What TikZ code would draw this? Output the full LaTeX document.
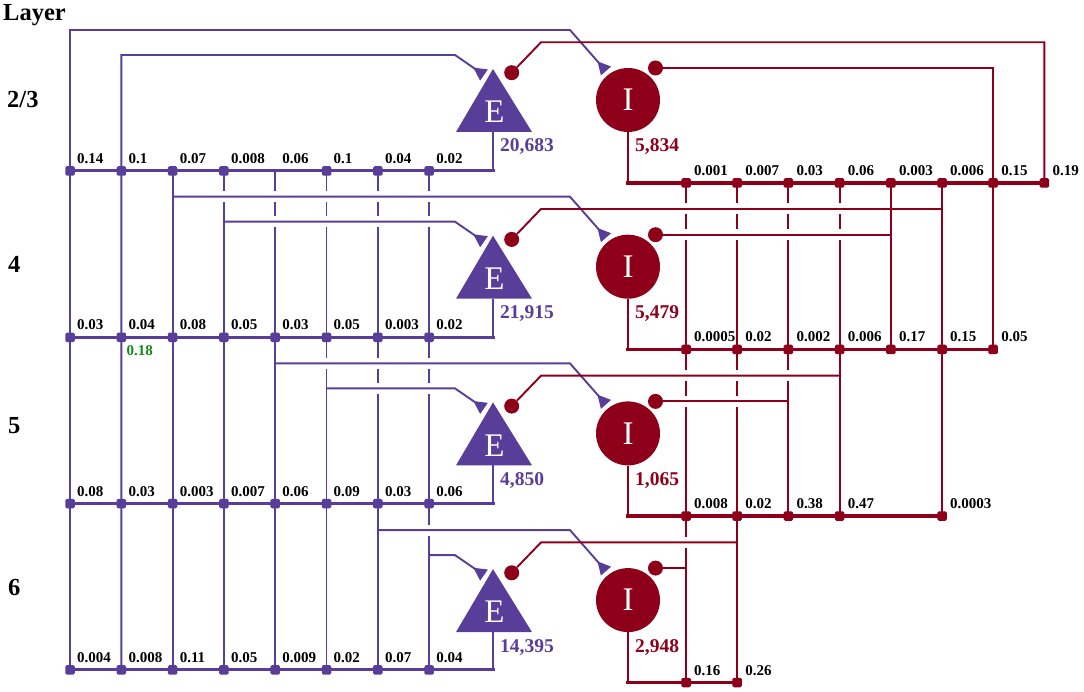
\documentclass[tikz,border=0pt]{standalone}
\usepackage{fontspec}
\setmainfont{Liberation Serif}
\usetikzlibrary{arrows.meta,calc}
\definecolor{pur}{RGB}{88,62,152}
\definecolor{inh}{RGB}{142,0,26}
\definecolor{grn}{RGB}{22,136,22}
\begin{document}
\begin{tikzpicture}[x=1pt,y=-1pt,
  ew/.style={draw=pur,line width=1.9pt,line join=miter},
  iw/.style={draw=inh,line width=1.9pt,line join=miter},
  pbus/.style={draw=pur,line width=3pt,line cap=rect},
  rbus/.style={draw=inh,line width=3.4pt,line cap=rect},
  psq/.style={fill=pur,minimum size=9.5pt,inner sep=0pt,rounded corners=1.5pt},
  rsq/.style={fill=inh,minimum size=9.5pt,inner sep=0pt,rounded corners=1.5pt},
  lab/.style={font=\bfseries\fontsize{15}{15}\selectfont,anchor=base west,inner sep=0pt},
  cnt/.style={font=\bfseries\fontsize{19.5}{19.5}\selectfont,anchor=base west,inner sep=0pt},
  lay/.style={font=\bfseries\fontsize{24.5}{24.5}\selectfont,anchor=base west,inner sep=0pt},
  neu/.style={text=white,font=\fontsize{33}{33}\selectfont,inner sep=0pt},
  syn/.style={circle,fill=inh,minimum size=15pt,inner sep=0pt},
  exa/.style={-{Triangle[reversed,length=13pt,width=13pt]}}
]
\useasboundingbox (0,0) rectangle (1084,692);

% bus coordinates
\foreach \k/\yy in {1/171,2/337.3,3/503.6,4/669.9}{
  \foreach \c/\xx in {1/70,2/121.3,3/172.6,4/223.9,5/275.2,6/326.5,7/377.8,8/429.1}{
    \coordinate (p\k-\c) at (\xx,\yy);}}
\foreach \k/\yy in {1/183,2/349.5,3/516,4/682.5}{
  \foreach \c/\xx in {1/686,2/737.2,3/788.4,4/839.6,5/890.8,6/942,7/993.2,8/1044.4}{
    \coordinate (r\k-\c) at (\xx,\yy);}}

% neuron-level coordinates
\foreach \k/\pc/\qc/\rc/\sc in {1/1/2/8/7,2/3/4/6/5,3/5/6/4/3,4/7/8/2/1}{
  \pgfmathsetmacro\dy{166.7*(\k-1)}
  \pgfmathsetmacro\yI{30+\dy}
  \pgfmathsetmacro\yE{55+\dy}
  \pgfmathsetmacro\yhE{42.3+\dy}
  \pgfmathsetmacro\yhI{68+\dy}
  \pgfmathsetmacro\ytI{71+\dy}
  \pgfmathsetmacro\ytE{75+\dy}
  \pgfmathsetmacro\yb{132+\dy}
  \coordinate (inI\k) at (p1-\pc |- 0,\yI);
  \coordinate (inE\k) at (p1-\qc |- 0,\yE);
  \coordinate (hE\k) at (r1-\rc |- 0,\yhE);
  \coordinate (hI\k) at (r1-\sc |- 0,\yhI);
  \coordinate (bI\k) at (570,\yI);
  \coordinate (tI\k) at (606,\ytI);
  \coordinate (bE\k) at (455,\yE);
  \coordinate (tE\k) at (484,\ytE);
  \coordinate (bh\k) at (541,\yhE);
  \coordinate (Eb\k) at (493,\yb);
}

% long verticals
\foreach \c in {3,...,8}{\draw[ew] (p1-\c) -- (p4-\c);}
\draw[iw] (r1-6) -- (r3-6);
\draw[iw] (r1-5) -- (r2-5);
\draw[iw] (r1-4) -- (r3-4);
\draw[iw] (r1-3) -- (r3-3);
\draw[iw] (r1-2) -- (r4-2);
\draw[iw] (r1-1) -- (r4-1);

% gaps where verticals pass under horizontals
\foreach \c/\h in {p1-4/inI2,p1-5/inI2,p1-5/inE2,p1-6/inI2,p1-6/inE2,p1-6/inI3,
  p1-7/inI2,p1-7/inE2,p1-7/inI3,p1-7/inE3,
  p1-8/inI2,p1-8/inE2,p1-8/inI3,p1-8/inE3,p1-8/inI4,
  r1-4/hE2,r1-4/hI2,r1-3/hE2,r1-3/hI2,r1-3/hE3,
  r1-2/hE2,r1-2/hI2,r1-2/hE3,r1-2/hI3,
  r1-1/hE2,r1-1/hI2,r1-1/hE3,r1-1/hI3,r1-1/hE4}{
  \fill[white] ($(\c |- \h)+(-2.6,-5.5)$) rectangle ($(\c |- \h)+(2.6,5.5)$);}

% neurons
\foreach \k/\last in {1/8,2/7,3/6,4/2}{
  \pgfmathsetmacro\dy{166.7*(\k-1)}
  \pgfmathsetmacro\ya{69+\dy}
  \pgfmathsetmacro\yb{132+\dy}
  \pgfmathsetmacro\ye{112+\dy}
  \pgfmathsetmacro\yc{100+\dy}
  \pgfmathsetmacro\ys{72.7+\dy}
  \pgfmathsetmacro\yt{68+\dy}
  \fill[pur] (456,\yb) -- (493,\ya) -- (532,\yb) -- cycle;
  \node[neu] (E\k) at (494.5,\ye) {E};
  \node[circle,fill=inh,minimum size=64pt,inner sep=0pt,text=white,
        font=\fontsize{33}{33}\selectfont] (I\k) at (628,\yc) {I};
  \node[syn] (sE\k) at (511.7,\ys) {};
  \node[syn] (sI\k) at (655.5,\yt) {};
  \coordinate (Eo\k) at (Eb\k |- p\k-1);
  \coordinate (Io\k) at (I\k.south |- r\k-1);
  \draw[ew,line width=2pt] (Eb\k) -- (Eo\k);
  \draw[pbus] (Eo\k) -- (p\k-1);
  \draw[iw,line width=2.4pt] (I\k.south) -- (Io\k);
  \draw[rbus] (Io\k) -- (r\k-\last);
}

% inputs
\draw[ew,exa] (p4-1) -- (inI1) -- (bI1) -- (tI1);
\draw[ew,exa] (p4-2) -- (inE1) -- (bE1) -- (tE1);
\draw[iw] (sE1) -- (bh1) -- (hE1) -- (r1-8);
\draw[iw] (sI1) -- (hI1) -- (r2-7);
\foreach \k in {2,3,4}{
  \draw[ew,exa] (inI\k) -- (bI\k) -- (tI\k);
  \draw[ew,exa] (inE\k) -- (bE\k) -- (tE\k);
  \draw[iw] (sE\k) -- (bh\k) -- (hE\k);
  \draw[iw] (sI\k) -- (hI\k);
}

% squares
\foreach \c in {1,2,3,4,6,7,8}{\node[psq] (s-p1-\c) at (p1-\c) {};}
\foreach \k in {2,3,4}{\foreach \c in {1,...,8}{\node[psq] (s-p\k-\c) at (p\k-\c) {};}}
\foreach \n in {r1-1,r1-2,r1-3,r1-4,r1-5,r1-6,r1-7,r1-8,
  r2-1,r2-2,r2-3,r2-4,r2-5,r2-6,r2-7,r3-1,r3-2,r3-3,r3-4,r3-6,r4-1,r4-2}{
  \node[rsq] (s-\n) at (\n) {};}

% labels
\foreach \n/\t in {p1-1/0.14,p1-2/0.1,p1-3/0.07,p1-4/0.008,p1-5/0.06,p1-6/0.1,p1-7/0.04,p1-8/0.02,
  p2-1/0.03,p2-2/0.04,p2-3/0.08,p2-4/0.05,p2-5/0.03,p2-6/0.05,p2-7/0.003,p2-8/0.02,
  p3-1/0.08,p3-2/0.03,p3-3/0.003,p3-4/0.007,p3-5/0.06,p3-6/0.09,p3-7/0.03,p3-8/0.06,
  p4-1/0.004,p4-2/0.008,p4-3/0.11,p4-4/0.05,p4-5/0.009,p4-6/0.02,p4-7/0.07,p4-8/0.04}{
  \node[lab] (l-\n) at ($(\n)+(7,-7.5)$) {\t};}
\foreach \n/\t in {r1-1/0.001,r1-2/0.007,r1-3/0.03,r1-4/0.06,r1-5/0.003,r1-6/0.006,r1-7/0.15,r1-8/0.19,
  r2-1/0.0005,r2-2/0.02,r2-3/0.002,r2-4/0.006,r2-5/0.17,r2-6/0.15,r2-7/0.05,
  r3-1/0.008,r3-2/0.02,r3-3/0.38,r3-4/0.47,r3-6/0.0003,r4-1/0.16,r4-2/0.26}{
  \node[lab] (l-\n) at ($(\n)+(8,-7.5)$) {\t};}
\node[lab,text=grn] (g18) at ($(p2-2)+(5,18)$) {0.18};

% neuron counts
\foreach \k/\a/\b in {1/{20,683}/{5,834},2/{21,915}/{5,479},3/{4,850}/{1,065},4/{14,395}/{2,948}}{
  \pgfmathsetmacro\yn{152+166.7*(\k-1)}
  \node[cnt,text=pur] (nE\k) at (500,\yn) {\a};
  \node[cnt,text=inh] (nI\k) at (635,\yn) {\b};
}

% layer labels
\node[lay] (Lh) at (3,21) {Layer};
\node[lay] (L1) at (7,108) {2/3};
\node[lay] (L2) at (8,273) {4};
\node[lay] (L3) at (8,433) {5};
\node[lay] (L4) at (8,595) {6};
\end{tikzpicture}
\end{document}
